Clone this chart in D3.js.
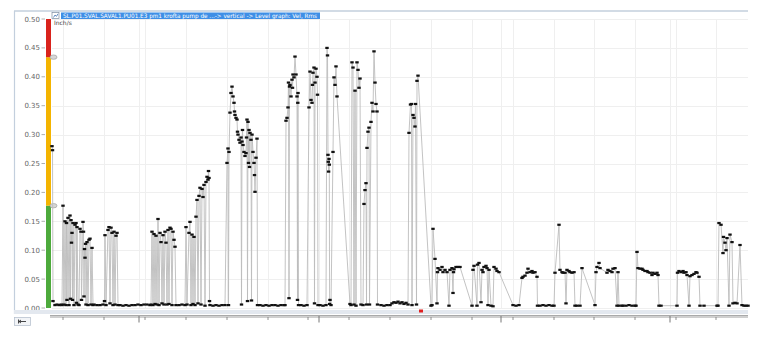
<!DOCTYPE html>
<html>
<head>
<meta charset="utf-8">
<script src="https://cdn.jsdelivr.net/npm/d3@7"></script>
<style>
  body { margin: 0; background: #fff; }
  svg { display: block; font-family: "DejaVu Sans", Verdana, sans-serif; }
</style>
</head>
<body>
<svg width="762" height="340"></svg>
<script>
// Chart data (time in minutes from left edge, value in inch/s)
const title = "SL.P01.SVAL.SAVAL1.PU01.E3 pm1 krofta pump de ...-> vertical -> Level graph: Vel, Rms";
const unit = "Inch/s";
const yTicks = [0, 0.05, 0.1, 0.15, 0.2, 0.25, 0.3, 0.35, 0.4, 0.45, 0.5];
const minorTicks = [11, 52, 93, 134, 175, 216, 256, 297, 338, 379, 420, 461, 502, 542, 583, 624, 664];
const majorTicks = [87, 267, 449, 618];
const alertLevel = 0.177;
const dangerLevel = 0.434;
const eventMarkers = [369];

const series = [
  [0, 0.28], [0.5, 0.273], [1, 0.012], [3, 0.005], [5, 0.006], [7, 0.005], [9, 0.006], [10, 0.005],
  [11, 0.177], [12, 0.006], [13, 0.15], [14, 0.005], [14.5, 0.147], [15, 0.014], [16, 0.156], [17, 0.005],
  [18, 0.16], [18.5, 0.016], [19, 0.152], [19.5, 0.113], [20, 0.13], [20.5, 0.014], [21, 0.147], [22, 0.005],
  [23, 0.144], [24, 0.147], [24.5, 0.009], [25, 0.14], [26, 0.006], [27, 0.005], [28, 0.137], [29, 0.132],
  [29.5, 0.014], [31, 0.149], [31.5, 0.132], [32, 0.02], [32.5, 0.102], [33, 0.087], [33.5, 0.111], [34, 0.006],
  [35, 0.114], [36, 0.005], [37, 0.118], [38, 0.12], [39, 0.006], [40, 0.104], [41, 0.005],
  [42, 0.006], [45, 0.005], [48, 0.005], [51, 0.006], [52.5, 0.012],
  [53, 0.126], [54, 0.005], [56, 0.135], [57, 0.14], [58, 0.008], [59, 0.139], [60, 0.13], [61, 0.005],
  [62, 0.132], [63, 0.006], [64, 0.125], [65, 0.13], [66, 0.005],
  [68, 0.005], [71, 0.004], [74, 0.005], [77, 0.004], [80, 0.005], [83, 0.005], [86, 0.006], [89, 0.005],
  [92, 0.006], [95, 0.006], [98, 0.005],
  [99, 0.006], [100, 0.132], [101, 0.005], [102, 0.128], [103, 0.007], [104, 0.125], [105, 0.006], [106, 0.154],
  [107, 0.005], [108, 0.13], [109, 0.114], [110, 0.008], [111, 0.126], [112, 0.006], [113, 0.132], [114, 0.113],
  [115, 0.006], [116, 0.135], [117, 0.007], [118, 0.139], [119, 0.137], [120, 0.005], [121, 0.132], [122, 0.118],
  [123, 0.106], [124, 0.005],
  [127, 0.005], [130, 0.006], [133, 0.005],
  [134, 0.14], [135, 0.006], [137, 0.13], [138, 0.149], [139, 0.005], [140, 0.127], [141, 0.007], [142, 0.123], [143, 0.005],
  [144, 0.158], [145, 0.187], [146, 0.008], [147, 0.194], [148, 0.208], [149, 0.006], [150, 0.206], [151, 0.192],
  [152, 0.213], [153, 0.004], [154, 0.218], [155, 0.227], [156, 0.222], [156.5, 0.237], [157, 0.225], [157.5, 0.012], [158, 0.005],
  [161, 0.004], [164, 0.005], [167, 0.004], [170, 0.005], [173, 0.005],
  [175, 0.251], [176, 0.276], [176.5, 0.005], [177, 0.27], [178, 0.338], [179, 0.372], [180, 0.383], [181, 0.366],
  [182, 0.355], [182.5, 0.34], [183, 0.334], [184, 0.329], [185, 0.326], [185.5, 0.305], [186, 0.3], [187, 0.291],
  [188, 0.286], [189, 0.295], [189.5, 0.006], [190, 0.288], [190.5, 0.308], [191, 0.282], [192, 0.27], [193, 0.263],
  [194, 0.268], [194.5, 0.295], [195, 0.326], [195.5, 0.012], [196, 0.322], [196.5, 0.251], [197, 0.308], [197.5, 0.244],
  [198, 0.303], [199, 0.291], [199.5, 0.013], [200, 0.3], [201, 0.27], [202, 0.251], [202.5, 0.23], [203, 0.201],
  [204, 0.26], [205, 0.293], [205.5, 0.005],
  [208, 0.005], [211, 0.004], [214, 0.005], [217, 0.004], [220, 0.005], [223, 0.005], [226, 0.004], [229, 0.005], [232, 0.005],
  [233, 0.005], [234, 0.324], [235, 0.329], [236, 0.347], [236.5, 0.39], [237, 0.017], [237.5, 0.383], [238, 0.386],
  [239, 0.366], [240, 0.395], [240.5, 0.381], [241, 0.404], [242, 0.399], [243, 0.435], [244, 0.404], [245, 0.366],
  [245.5, 0.014], [245.8, 0.355], [246, 0.372], [246.5, 0.005],
  [249, 0.005], [252, 0.004], [255, 0.005],
  [257, 0.347], [258, 0.409], [259, 0.36], [260, 0.355], [260.5, 0.386], [261, 0.407], [262, 0.416], [262.5, 0.008],
  [263, 0.39], [264, 0.414], [265, 0.4], [265.5, 0.369], [266, 0.005],
  [268, 0.005], [271, 0.004], [274, 0.005],
  [275, 0.45], [275.5, 0.437], [276, 0.265], [276.3, 0.253], [276.6, 0.236], [277, 0.258], [277.3, 0.248], [277.6, 0.007],
  [278, 0.014], [279, 0.005], [281, 0.27], [282, 0.399], [283, 0.386], [284, 0.418], [285, 0.366],
  [298, 0.007], [299, 0.005], [300, 0.425], [301, 0.416], [302, 0.006], [303, 0.376], [304, 0.004], [305, 0.425],
  [306, 0.412], [307, 0.381], [308, 0.397], [309, 0.006], [311, 0.005],
  [312, 0.18], [313, 0.204], [314, 0.216], [314.5, 0.006], [315, 0.277], [316, 0.305], [317, 0.312], [317.5, 0.006],
  [319, 0.322], [320, 0.355], [321, 0.34], [322, 0.444], [323, 0.39], [324, 0.353], [325, 0.34], [325.5, 0.006],
  [329, 0.005], [332, 0.004], [335, 0.005], [338, 0.005], [340, 0.008], [342, 0.01], [344, 0.009], [346, 0.011],
  [348, 0.008], [350, 0.01], [352, 0.007], [354, 0.009], [356, 0.006],
  [357, 0.303], [358.5, 0.352], [359.5, 0.353], [360, 0.005], [361, 0.334], [362, 0.329], [363, 0.314], [363.5, 0.353],
  [364.5, 0.006], [365, 0.393], [366, 0.402],
  [379, 0.004], [380, 0.005], [381, 0.137], [383, 0.085], [385, 0.008], [385.5, 0.062], [386, 0.069], [388, 0.066],
  [390, 0.071], [391, 0.062], [393, 0.066], [395, 0.062], [397, 0.004], [398, 0.066], [400, 0.069], [401, 0.026],
  [401.5, 0.062], [402, 0.067], [404, 0.071], [406, 0.071], [408, 0.071],
  [420, 0.004], [421, 0.066], [422, 0.073], [425, 0.004], [425.5, 0.075], [427, 0.078], [429, 0.01], [430, 0.066],
  [431, 0.062], [432, 0.071], [434, 0.073], [435, 0.069], [436, 0.005], [437, 0.066], [439, 0.004], [441, 0.003],
  [442, 0.071], [444, 0.068], [445, 0.064], [447, 0.062],
  [461, 0.005], [464, 0.004], [467, 0.005], [470, 0.052], [471, 0.054], [473, 0.056], [475, 0.061], [476, 0.068],
  [478, 0.062], [480, 0.064], [481, 0.061], [483, 0.062], [485, 0.054], [485.5, 0.004], [488, 0.004], [491, 0.005],
  [494, 0.004], [497, 0.005], [500, 0.004], [502, 0.004], [503, 0.061], [507, 0.144], [508, 0.066], [510, 0.062],
  [511, 0.061], [513, 0.061], [514, 0.008], [515, 0.066], [517, 0.064], [518, 0.062], [520, 0.061], [522, 0.062],
  [523, 0.004], [525, 0.004], [528, 0.004], [530, 0.069],
  [543, 0.005], [544, 0.062], [545, 0.071], [547, 0.078], [548, 0.069],
  [555, 0.061], [556, 0.066], [558, 0.064], [560, 0.062], [561, 0.068], [563, 0.069], [565, 0.004], [566, 0.062],
  [567, 0.004], [570, 0.004], [571, 0.004], [574, 0.004], [577, 0.005], [580, 0.004], [583, 0.004],
  [584, 0.004], [585, 0.097], [586, 0.069], [588, 0.068], [590, 0.068], [591, 0.066], [593, 0.064], [595, 0.064],
  [596, 0.062], [598, 0.061], [600, 0.057], [601, 0.061], [603, 0.059], [605, 0.061], [606, 0.057], [607, 0.004],
  [609, 0.004], [625, 0.004], [625.5, 0.061], [627, 0.064], [629, 0.062], [631, 0.064], [632, 0.061], [634, 0.062],
  [635, 0.057], [637, 0.004], [638, 0.055], [640, 0.057], [642, 0.059], [644, 0.062], [645, 0.061], [647, 0.054],
  [648, 0.004], [652, 0.004], [665, 0.004],
  [666, 0.004], [667, 0.147], [669, 0.144], [671, 0.095], [671.5, 0.123], [673, 0.113], [674, 0.1], [675, 0.121],
  [677, 0.004], [678, 0.127], [680, 0.114], [681, 0.008], [683, 0.009], [685, 0.008], [688, 0.109], [690, 0.005],
  [692, 0.004], [694, 0.004], [696, 0.004]
];

const svg = d3.select("svg");
const plotLeft = 52, plotRight = 748, plotTop = 19, plotBottom = 308;

const x = d3.scaleLinear().domain([0, 696]).range([plotLeft, plotRight]);
const y = d3.scaleLinear().domain([0, 0.5]).range([plotBottom, plotTop]);

// outer frame (top and left edges only)
svg.append("line").attr("x1", 14).attr("x2", 748).attr("y1", 11).attr("y2", 11)
  .attr("stroke", "#c3cfdd").attr("stroke-width", 1.5);
svg.append("line").attr("x1", 14.5).attr("x2", 14.5).attr("y1", 11).attr("y2", 314)
  .attr("stroke", "#c3cfdd").attr("stroke-width", 1.2);

// grid
const grid = svg.append("g").attr("stroke", "#efefef").attr("stroke-width", 1);
grid.selectAll(".h").data(yTicks).join("line")
  .attr("x1", plotLeft).attr("x2", plotRight)
  .attr("y1", (d) => Math.round(y(d)) + 0.5).attr("y2", (d) => Math.round(y(d)) + 0.5);
grid.selectAll(".v").data(minorTicks.concat(majorTicks)).join("line")
  .attr("x1", (d) => Math.round(x(d)) + 0.5).attr("x2", (d) => Math.round(x(d)) + 0.5)
  .attr("y1", plotTop).attr("y2", plotBottom);

// y axis labels
const yAxis = svg.append("g");
yAxis.selectAll("text").data(yTicks).join("text")
  .attr("x", 40).attr("y", (d) => y(d) + 2.5)
  .attr("text-anchor", "end")
  .attr("font-size", 7).attr("fill", "#666")
  .text((d) => d3.format(".2f")(d));
yAxis.selectAll("line").data(yTicks).join("line")
  .attr("x1", 41.5).attr("x2", 45).attr("y1", (d) => y(d)).attr("y2", (d) => y(d))
  .attr("stroke", "#999").attr("stroke-width", 0.8);

// level bar
const bands = [
  { from: 0, to: alertLevel, color: "#4daa3c" },
  { from: alertLevel, to: dangerLevel, color: "#f4b400" },
  { from: dangerLevel, to: 0.5, color: "#d9231c" },
];
svg.append("g").selectAll("rect").data(bands).join("rect")
  .attr("x", 46).attr("width", 5)
  .attr("y", (d) => y(d.to)).attr("height", (d) => y(d.from) - y(d.to))
  .attr("fill", (d) => d.color);
svg.append("g").selectAll("ellipse").data([alertLevel, dangerLevel]).join("ellipse")
  .attr("cx", 53.5).attr("cy", (d) => y(d)).attr("rx", 3.5).attr("ry", 2.2)
  .attr("fill", "#d6d6d6").attr("stroke", "#999").attr("stroke-width", 0.6);

// trend line and points
svg.append("path").datum(series)
  .attr("fill", "none").attr("stroke", "#bcbcbc").attr("stroke-width", 0.9)
  .attr("d", d3.line().x((d) => x(d[0])).y((d) => y(d[1])));
svg.append("g").selectAll("rect").data(series).join("rect")
  .attr("x", (d) => x(d[0]) - 1.7).attr("y", (d) => y(d[1]) - 1.1)
  .attr("width", 3.4).attr("height", 2.2)
  .attr("fill", "#111");

// title tag
svg.append("rect").attr("x", 52).attr("y", 12.5).attr("width", 7).attr("height", 6)
  .attr("fill", "#fff").attr("stroke", "#7a8aa0").attr("stroke-width", 0.7);
svg.append("path").attr("d", "M53.5,17.5 L55,15 L56.5,16.3 L58,13.8")
  .attr("fill", "none").attr("stroke", "#3d6fb0").attr("stroke-width", 0.8);
svg.append("rect").attr("x", 61).attr("y", 12.5).attr("width", 259).attr("height", 6.5)
  .attr("fill", "#3f8fe6");
svg.append("text").attr("x", 63).attr("y", 17.8)
  .attr("font-size", 6).attr("fill", "#fff")
  .attr("textLength", 254).attr("lengthAdjust", "spacingAndGlyphs")
  .text(title);
svg.append("text").attr("x", 54).attr("y", 25)
  .attr("font-size", 6).attr("fill", "#444").text(unit);

// bottom navigator strip
svg.append("rect").attr("x", 14).attr("y", 310).attr("width", 734).attr("height", 4)
  .attr("fill", "#e3e8ef");
svg.append("line").attr("x1", 50).attr("x2", 748).attr("y1", 315.5).attr("y2", 315.5)
  .attr("stroke", "#aaa").attr("stroke-width", 1);
svg.append("line").attr("x1", 50).attr("x2", 748).attr("y1", 317).attr("y2", 317)
  .attr("stroke", "#888").attr("stroke-width", 0.8);
svg.append("g").selectAll("line").data(minorTicks).join("line")
  .attr("x1", (d) => x(d)).attr("x2", (d) => x(d)).attr("y1", 317).attr("y2", 320)
  .attr("stroke", "#777").attr("stroke-width", 0.8);
svg.append("g").selectAll("line").data(majorTicks).join("line")
  .attr("x1", (d) => x(d)).attr("x2", (d) => x(d)).attr("y1", 316).attr("y2", 322.5)
  .attr("stroke", "#777").attr("stroke-width", 1);
svg.append("g").selectAll("rect").data(eventMarkers).join("rect")
  .attr("x", (d) => x(d) - 2).attr("y", 309.5).attr("width", 4).attr("height", 3)
  .attr("fill", "#e02020");

// back button
svg.append("rect").attr("x", 14.5).attr("y", 317.5).attr("width", 16).attr("height", 8)
  .attr("fill", "#f2f4f7").attr("stroke", "#b8c2cf").attr("stroke-width", 0.8);
svg.append("path").attr("d", "M18.5,319.5 L18.5,323.5 M19,321.5 L26,321.5 M19,321.5 L21,320 M19,321.5 L21,323")
  .attr("fill", "none").attr("stroke", "#333").attr("stroke-width", 0.9);
</script>
</body>
</html>
